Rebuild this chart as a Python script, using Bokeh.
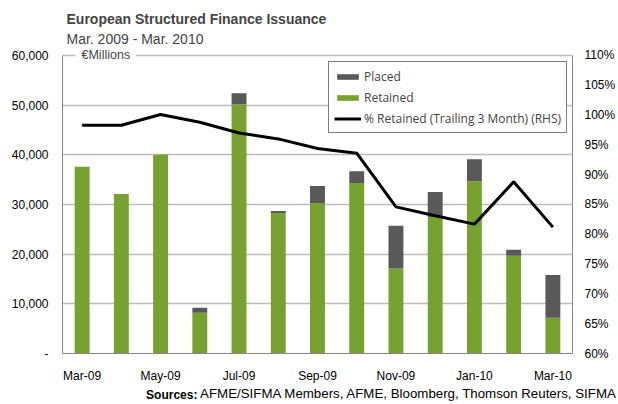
from bokeh.plotting import figure
from bokeh.models import (ColumnDataSource, Range1d, LinearAxis, FixedTicker, NumeralTickFormatter,
                          PrintfTickFormatter, Legend, LegendItem, Label, Title)
from bokeh.embed import file_html
from bokeh.resources import INLINE

months = ["Mar-09", "Apr-09", "May-09", "Jun-09", "Jul-09", "Aug-09", "Sep-09",
          "Oct-09", "Nov-09", "Dec-09", "Jan-10", "Feb-10", "Mar-10"]
retained = [37600, 32100, 40000, 8200, 50200, 28300, 30300, 34300, 17100, 27500, 34700, 19700, 7200]
placed = [0, 0, 0, 1000, 2200, 400, 3400, 2400, 8600, 5000, 4400, 1200, 8600]
pct_retained_3m = [98.3, 98.3, 100.1, 98.8, 97.0, 96.0, 94.4, 93.6, 84.6, 83.1, 81.7, 88.8, 81.2]

left_ticks = [0, 10000, 20000, 30000, 40000, 50000, 60000]
right_ticks = [60, 65, 70, 75, 80, 85, 90, 95, 100, 105, 110]
x_tick_idx = [0, 2, 4, 6, 8, 10, 12]
source_bold = "Sources:"
source_rest = "AFME/SIFMA Members, AFME, Bloomberg, Thomson Reuters, SIFMA"

GREEN = "#78A22F"
GRAY = "#595959"
AXIS_FONT = "Liberation Sans"

src = ColumnDataSource(dict(x=list(range(len(months))), retained=retained, placed=placed,
                            pct=pct_retained_3m))

# a little head-room above 60,000 so the "€Millions" label is not clipped
Y_TOP = 61600
p = figure(width=618, height=404, output_backend="svg", toolbar_location=None, title=None,
           x_range=Range1d(-0.5, len(months) - 0.5), y_range=Range1d(0, Y_TOP),
           min_border_left=62, min_border_right=45, min_border_top=47, min_border_bottom=50)
p.outline_line_color = None
p.background_fill_color = "white"
p.border_fill_color = "white"

p.extra_y_ranges = {"pct": Range1d(60, 60 + Y_TOP / 1200)}

bars = p.vbar_stack(["retained", "placed"], x="x", width=0.38, source=src,
                    color=[GREEN, GRAY], line_color=None)
line = p.line("x", "pct", source=src, y_range_name="pct", line_color="black", line_width=3)

# axes
p.yaxis.ticker = FixedTicker(ticks=left_ticks)
p.yaxis.formatter = NumeralTickFormatter(format="0,0")
p.yaxis.major_label_overrides = {0: "-"}
p.yaxis.bounds = (0, 60000)
p.xaxis.ticker = FixedTicker(ticks=x_tick_idx)
p.xaxis.major_label_overrides = {i: months[i] for i in x_tick_idx}

ra = LinearAxis(y_range_name="pct", ticker=FixedTicker(ticks=right_ticks),
                formatter=PrintfTickFormatter(format="%d%%"), bounds=(60, 110))
p.add_layout(ra, "right")

for ax in [p.xaxis[0], p.yaxis[0], ra]:
    ax.axis_line_color = "#868686"
    ax.axis_line_width = 1
    ax.major_tick_line_color = None
    ax.minor_tick_line_color = None
    ax.major_tick_out = 0
    ax.major_tick_in = 0
    ax.minor_tick_out = 0
    ax.major_label_text_font = AXIS_FONT
    ax.major_label_text_font_size = "12px"
    ax.major_label_text_color = "black"
p.yaxis[0].major_label_standoff = 14
ra.major_label_standoff = 12
p.xaxis[0].major_label_standoff = 15

# sources line: two label-only axes below the x axis, sharing one row
x0 = -0.5
px_per_unit = 511 / 13.0
bold_pos = x0 + (171.5 - 62) / px_per_unit
rest_pos = x0 + (409 - 62) / px_per_unit
src_bold_axis = LinearAxis(ticker=FixedTicker(ticks=[bold_pos]))
src_bold_axis.major_label_overrides = {bold_pos: source_bold}
src_bold_axis.major_label_text_font_style = "bold"
src_bold_axis.major_label_text_font_size = "12px"
src_bold_axis.major_label_standoff = 2
src_rest_axis = LinearAxis(ticker=FixedTicker(ticks=[rest_pos]))
src_rest_axis.major_label_overrides = {rest_pos: source_rest}
src_rest_axis.major_label_text_font_size = "13.3px"
src_rest_axis.major_label_standoff = -19
for ax in [src_bold_axis, src_rest_axis]:
    ax.axis_line_color = None
    ax.major_tick_line_color = None
    ax.minor_tick_line_color = None
    ax.major_tick_out = 0
    ax.major_tick_in = 0
    ax.minor_tick_out = 0
    ax.major_label_text_font = AXIS_FONT
    ax.major_label_text_color = "black"
    p.add_layout(ax, "below")

p.xgrid.grid_line_color = None
p.ygrid.grid_line_color = "#BCBCBC"
p.ygrid.grid_line_width = 1.5
p.ygrid.ticker = FixedTicker(ticks=left_ticks[1:])

# titles
sub = Title(text="Mar. 2009 - Mar. 2010", align="left", offset=4, text_font=AXIS_FONT,
            text_font_size="14px", text_font_style="normal", standoff=1)
ttl = Title(text="European Structured Finance Issuance", align="left", offset=4, text_font=AXIS_FONT,
            text_font_size="14px", text_font_style="bold", standoff=3)
p.add_layout(sub, "above")
p.add_layout(ttl, "above")

# unit label
p.add_layout(Label(x=-0.5, y=60000, x_offset=13, text="€Millions", text_baseline="middle",
                   text_font=AXIS_FONT, text_font_size="12.5px", background_fill_color="white",
                   padding=6))

legend = Legend(items=[LegendItem(label="Placed", renderers=[bars[1]]),
                       LegendItem(label="Retained", renderers=[bars[0]]),
                       LegendItem(label="% Retained (Trailing 3 Month) (RHS)", renderers=[line])],
                location=(266, 220), border_line_color="black", border_line_width=1,
                background_fill_alpha=1, label_text_font="Open Sans", label_text_font_size="12px",
                glyph_width=27, glyph_height=7, label_height=18, spacing=3, padding=5,
                label_standoff=3)
p.add_layout(legend)

open("out.html", "w").write(file_html(p, INLINE))
